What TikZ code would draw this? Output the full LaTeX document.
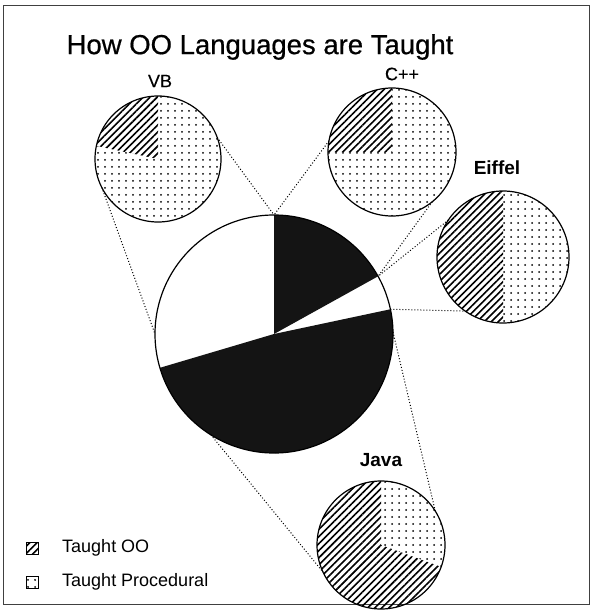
\documentclass[tikz,border=0pt]{standalone}
\usepackage{fontspec}
\setmainfont{Liberation Sans}
\newfontfamily\titlefont[FakeBold=0.6]{Liberation Sans}
\newfontfamily\labfont[FakeBold=0.3]{Liberation Sans}
\usetikzlibrary{patterns.meta}
\begin{document}
\begin{tikzpicture}[x=1pt,y=1pt,
  hatch/.style={pattern={Lines[angle=45,distance=5pt,line width=1.6pt]}},
  dotfill/.style={pattern={Dots[distance=7pt,radius=1pt]}},
  dark/.style={fill=black!92},
  piebox/.style={circle,draw,line width=1.2pt,inner sep=0pt,outer sep=0pt},
  link/.style={dotted,line width=1pt},
  lab/.style={font=\labfont\fontsize{18}{18}\selectfont},
  blab/.style={font=\bfseries\fontsize{19}{19}\selectfont},
  legtext/.style={anchor=west,inner sep=0pt,font=\fontsize{18}{18}\selectfont},
  legbox/.style={draw,line width=0.8pt,minimum size=12pt,inner sep=0pt},
]
\useasboundingbox (0,0) rectangle (592,-615);
\draw[line width=0.8pt,black!75] (3,-5) rectangle (589,-604);

% title
\node[font=\titlefont\fontsize{27.5}{28}\selectfont] (title) at (260,-47) {How OO Languages are Taught};

% central pie
\coordinate (mc) at (274,-334);
\fill[dark] (mc) -- ++(90:119pt) arc[start angle=90,end angle=29,radius=119pt] -- cycle;
\fill[dark] (mc) -- ++(12:119pt) arc[start angle=12,end angle=-163.5,radius=119pt] -- cycle;
\node[piebox,minimum size=238pt] (main) at (mc) {};

% VB
\coordinate (vbc) at (158,-159);
\fill[hatch] (vbc) -- ++(90:63pt) arc[start angle=90,end angle=168,radius=63pt] -- cycle;
\fill[dotfill] (vbc) -- ++(168:63pt) arc[start angle=168,end angle=450,radius=63pt] -- cycle;
\node[piebox,minimum size=126pt] (vb) at (vbc) {};
\node[lab] (vbl) at (160,-81) {VB};

% C++
\coordinate (cpc) at (392,-152);
\fill[hatch] (cpc) -- ++(90:64pt) arc[start angle=90,end angle=180,radius=64pt] -- cycle;
\fill[dotfill] (cpc) -- ++(180:64pt) arc[start angle=180,end angle=450,radius=64pt] -- cycle;
\node[piebox,minimum size=128pt] (cpp) at (cpc) {};
\node[lab] (cppl) at (402,-74) {C++};

% Eiffel
\coordinate (eic) at (503,-257);
\fill[hatch] (eic) -- ++(90:66pt) arc[start angle=90,end angle=270,radius=66pt] -- cycle;
\fill[dotfill] (eic) -- ++(270:66pt) arc[start angle=270,end angle=450,radius=66pt] -- cycle;
\node[piebox,minimum size=132pt] (eif) at (eic) {};
\node[blab] (eifl) at (497,-168) {Eiffel};

% Java
\coordinate (jac) at (381,-545);
\fill[dotfill] (jac) -- ++(-20:64pt) arc[start angle=-20,end angle=90,radius=64pt] -- cycle;
\fill[hatch] (jac) -- ++(90:64pt) arc[start angle=90,end angle=340,radius=64pt] -- cycle;
\node[piebox,minimum size=128pt] (java) at (jac) {};
\node[blab] (javal) at (381,-460) {Java};

% connectors
\draw[link] (vb.20) -- (main.90);
\draw[link] (vb.207) -- (main.180);
\draw[link] (cpp.170) -- (main.90);
\draw[link] (cpp.-51) -- (main.29);
\draw[link] (eif.146) -- (main.29);
\draw[link] (main.12) -- (eif.235);
\draw[link] (main.1) -- (java.32);
\draw[link] (main.238) -- (java.205);

% legend
\node[legbox,hatch] (lg1) at (32,-548) {};
\node[legtext] (lt1) at (62,-548) {Taught OO};
\node[legbox,dotfill] (lg2) at (32,-582) {};
\node[legtext] (lt2) at (62,-582) {Taught Procedural};
\end{tikzpicture}
\end{document}
